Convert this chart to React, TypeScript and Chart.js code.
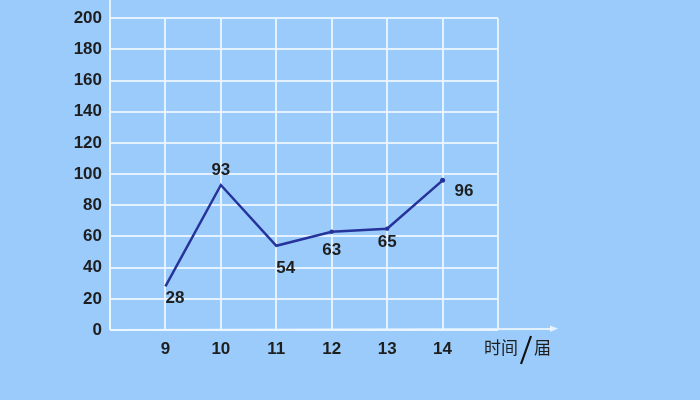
import React, { useEffect, useRef } from 'react';
import { Chart, registerables } from 'chart.js';

Chart.register(...registerables);

const categories = [9, 10, 11, 12, 13, 14];
const values = [28, 93, 54, 63, 65, 96];
const yTickValues = [0, 20, 40, 60, 80, 100, 120, 140, 160, 180, 200];
const axisUnitLeft = '时间';
const axisUnitRight = '届';

// label offsets relative to point (style only)
const labelStyle = [
  { dx: 0, dy: 12, align: 'left' },
  { dx: 0, dy: -15, align: 'center' },
  { dx: 0, dy: 22, align: 'left' },
  { dx: 0, dy: 19, align: 'center' },
  { dx: 0, dy: 14, align: 'center' },
  { dx: 12, dy: 11, align: 'left' },
];

const BG = '#9acbfb';
const GRID = 'rgba(236,246,255,0.9)';
const LINE = '#26339b';
const TEXT = '#1e1e1e';
const FONT = "'Liberation Sans', Arial, sans-serif";

const decorPlugin = {
  id: 'decor',
  afterDatasetsDraw(chart: any) {
    const ctx = chart.ctx;
    const area = chart.chartArea;
    ctx.save();
    // extended x axis with arrow
    ctx.strokeStyle = GRID;
    ctx.fillStyle = GRID;
    ctx.lineWidth = 2;
    ctx.beginPath();
    ctx.moveTo(area.left, area.bottom);
    ctx.lineTo(area.right + 54, area.bottom - 1);
    ctx.stroke();
    ctx.beginPath();
    ctx.moveTo(area.right + 60, area.bottom - 1.5);
    ctx.lineTo(area.right + 52, area.bottom - 4.5);
    ctx.lineTo(area.right + 52, area.bottom + 2);
    ctx.closePath();
    ctx.fill();
    // y axis extends to top
    ctx.beginPath();
    ctx.moveTo(area.left, area.bottom);
    ctx.lineTo(area.left, 0);
    ctx.stroke();

    // axis unit
    ctx.fillStyle = TEXT;
    ctx.font = "17px 'Noto Sans CJK SC', sans-serif";
    ctx.textBaseline = 'middle';
    ctx.textAlign = 'left';
    const ty = area.bottom + 18;
    ctx.fillText(axisUnitLeft, area.right - 14, ty);
    ctx.fillText(axisUnitRight, area.right + 36, ty);
    ctx.strokeStyle = '#111';
    ctx.lineWidth = 2.2;
    ctx.beginPath();
    ctx.moveTo(area.right + 23, area.bottom + 34);
    ctx.lineTo(area.right + 33, area.bottom + 6);
    ctx.stroke();

    // point labels
    ctx.font = `bold 17px ${FONT}`;
    const meta = chart.getDatasetMeta(0);
    meta.data.forEach((pt: any, i: number) => {
      const s = labelStyle[i];
      ctx.textAlign = s.align;
      ctx.fillText(String(values[i]), pt.x + s.dx, pt.y + s.dy);
    });
    ctx.restore();
  },
};

export default function App() {
  const ref = useRef<HTMLCanvasElement>(null);
  useEffect(() => {
    document.body.style.margin = '0';
    const chart = new Chart(ref.current!, {
      type: 'line',
      data: {
        datasets: [
          {
            data: categories.map((c, i) => ({ x: c, y: values[i] })),
            borderColor: LINE,
            backgroundColor: LINE,
            borderWidth: 2.5,
            pointRadius: [0, 0, 0, 2.2, 2.2, 2.5],
            pointBorderWidth: 0,
            tension: 0,
          },
        ],
      },
      options: {
        animation: false,
        responsive: false,
        maintainAspectRatio: false,
        layout: { padding: { top: 16, right: 202, left: 0, bottom: 0 } },
        plugins: { legend: { display: false }, tooltip: { enabled: false } },
        scales: {
          x: {
            type: 'linear',
            min: 8,
            max: 15,
            afterFit: (s: any) => { s.height = 70; },
            afterBuildTicks: (s: any) => {
              s.ticks = [8, ...categories, 15].map((v) => ({ value: v }));
            },
            ticks: {
              color: TEXT,
              font: { family: FONT, size: 17, weight: 'bold' },
              padding: 9,
              maxRotation: 0,
              callback: (v: any) => (categories.includes(v) ? String(v) : ''),
            },
            grid: { color: GRID, lineWidth: 2, drawTicks: false },
            border: { display: false },
          },
          y: {
            min: 0,
            max: 200,
            afterFit: (s: any) => { s.width = 110; },
            afterBuildTicks: (s: any) => {
              s.ticks = yTickValues.map((v) => ({ value: v }));
            },
            ticks: {
              color: TEXT,
              font: { family: FONT, size: 17, weight: 'bold' },
              padding: 8,
            },
            grid: { color: GRID, lineWidth: 2, drawTicks: false },
            border: { display: false },
          },
        },
      },
      plugins: [decorPlugin],
    });
    return () => chart.destroy();
  }, []);
  return (
    <div style={{ width: 700, height: 400, background: BG, position: 'absolute', left: 0, top: 0 }}>
      <canvas ref={ref} width={700} height={400} style={{ width: 700, height: 400 }} />
    </div>
  );
}
